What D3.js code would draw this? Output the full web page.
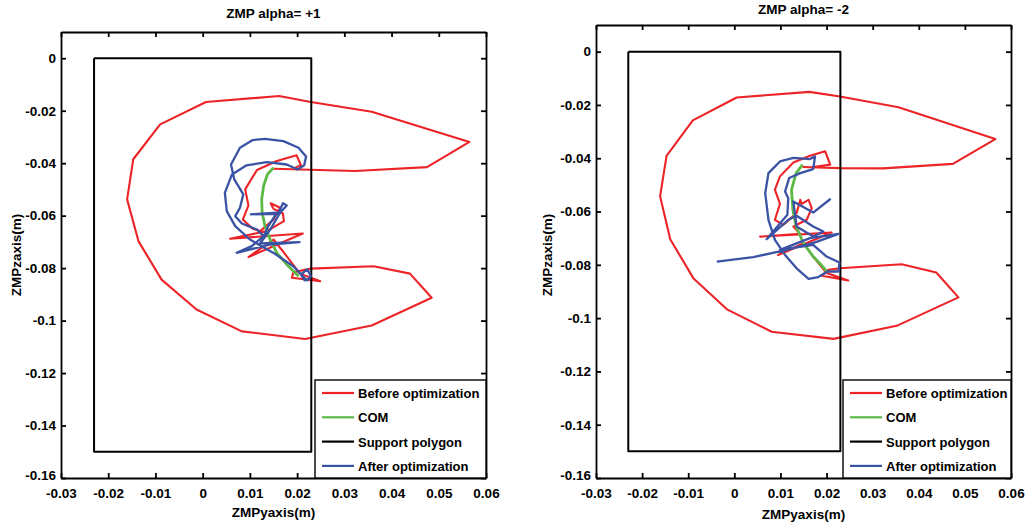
<!DOCTYPE html>
<html>
<head>
<meta charset="utf-8">
<script src="https://cdn.jsdelivr.net/npm/d3@7"></script>
<style>
body { margin: 0; background: #fff; }
svg text { font-family: "Liberation Sans", Arial, sans-serif; font-weight: bold; fill: #000; }
</style>
</head>
<body>
<div id="chart"></div>
<script>
// axis ticks
var xTicks = [-0.03, -0.02, -0.01, 0, 0.01, 0.02, 0.03, 0.04, 0.05, 0.06];
var yTicks = [0, -0.02, -0.04, -0.06, -0.08, -0.1, -0.12, -0.14, -0.16];
var legendNames = ["Before optimization", "COM", "Support polygon", "After optimization"];
var titles = ["ZMP alpha= +1", "ZMP alpha= -2"];

// support polygon (y, z)
var polyY = [-0.023, 0.023, 0.023, -0.023, -0.023];
var polyZ = [0, 0, -0.15, -0.15, 0];

// alpha = +1
var before1 = [[0.0150,-0.0421],[0.0323,-0.0430],[0.0475,-0.0415],[0.0565,-0.0319],[0.0358,-0.0204],[0.0229,-0.0167],
  [0.0162,-0.0144],[0.0007,-0.0167],[-0.0090,-0.0252],[-0.0147,-0.0385],[-0.0160,-0.0538],[-0.0136,-0.0697],
  [-0.0087,-0.0844],[-0.0013,-0.0958],[0.0083,-0.1041],[0.0217,-0.1070],[0.0358,-0.1019],[0.0485,-0.0913],
  [0.0439,-0.0821],[0.0362,-0.0793],[0.0229,-0.0802],[0.0192,-0.0816],[0.0189,-0.0837],[0.0249,-0.0850],
  [0.0206,-0.0821],[0.0175,-0.0748],[0.0150,-0.0691],[0.0097,-0.0758],[0.0212,-0.0668],[0.0058,-0.0688],
  [0.0136,-0.0659],[0.0172,-0.0621],[0.0170,-0.0592],[0.0150,-0.0574],[0.0144,-0.0553],[0.0164,-0.0570],
  [0.0150,-0.0615],[0.0122,-0.0659],[0.0106,-0.0650],[0.0085,-0.0615],[0.0097,-0.0561],[0.0090,-0.0500],
  [0.0115,-0.0426],[0.0157,-0.0392],[0.0199,-0.0370],[0.0208,-0.0408],[0.0196,-0.0417]];
var com1 = [[0.0150,-0.0417],[0.0137,-0.0443],[0.0129,-0.0487],[0.0125,-0.0538],[0.0126,-0.0589],[0.0132,-0.0640],
  [0.0143,-0.0691],[0.0157,-0.0742],[0.0178,-0.0786],[0.0203,-0.0831]];
var after1 = [[0.0217,-0.0850],[0.0208,-0.0824],[0.0222,-0.0805],[0.0229,-0.0831],[0.0221,-0.0847],[0.0192,-0.0793],
  [0.0150,-0.0742],[0.0100,-0.0691],[0.0069,-0.0640],[0.0051,-0.0583],[0.0047,-0.0513],[0.0062,-0.0443],
  [0.0093,-0.0408],[0.0136,-0.0396],[0.0178,-0.0405],[0.0201,-0.0424],[0.0215,-0.0408],[0.0219,-0.0375],
  [0.0203,-0.0341],[0.0171,-0.0316],[0.0132,-0.0307],[0.0106,-0.0312],[0.0079,-0.0341],[0.0060,-0.0405],
  [0.0067,-0.0462],[0.0086,-0.0519],[0.0079,-0.0570],[0.0069,-0.0602],[0.0083,-0.0630],[0.0115,-0.0653],
  [0.0129,-0.0678],[0.0104,-0.0716],[0.0072,-0.0742],[0.0143,-0.0710],[0.0205,-0.0701],[0.0122,-0.0706],
  [0.0139,-0.0640],[0.0157,-0.0589],[0.0102,-0.0595],[0.0160,-0.0593],[0.0170,-0.0553],[0.0178,-0.0561],
  [0.0164,-0.0589],[0.0143,-0.0653],[0.0120,-0.0710]];

// alpha = -2
var before2 = [[0.0148,-0.0433],[0.0229,-0.0437],[0.0323,-0.0438],[0.0474,-0.0421],[0.0566,-0.0328],[0.0356,-0.0209],
  [0.0229,-0.0168],[0.0163,-0.0151],[0.0005,-0.0172],[-0.0090,-0.0258],[-0.0147,-0.0391],[-0.0161,-0.0543],
  [-0.0139,-0.0704],[-0.0089,-0.0850],[-0.0016,-0.0967],[0.0081,-0.1051],[0.0215,-0.1078],[0.0352,-0.1029],
  [0.0486,-0.0922],[0.0438,-0.0829],[0.0363,-0.0798],[0.0229,-0.0813],[0.0204,-0.0819],[0.0190,-0.0841],
  [0.0247,-0.0859],[0.0200,-0.0831],[0.0171,-0.0769],[0.0150,-0.0719],[0.0095,-0.0763],[0.0211,-0.0679],
  [0.0056,-0.0694],[0.0143,-0.0684],[0.0128,-0.0656],[0.0157,-0.0631],[0.0168,-0.0587],[0.0161,-0.0556],
  [0.0146,-0.0571],[0.0143,-0.0556],[0.0135,-0.0606],[0.0106,-0.0650],[0.0088,-0.0631],[0.0099,-0.0571],
  [0.0088,-0.0518],[0.0099,-0.0468],[0.0128,-0.0416],[0.0164,-0.0391],[0.0197,-0.0374],[0.0208,-0.0424],
  [0.0171,-0.0433]];
var com2 = [[0.0148,-0.0424],[0.0134,-0.0456],[0.0124,-0.0518],[0.0127,-0.0594],[0.0134,-0.0656],[0.0150,-0.0719],
  [0.0171,-0.0769],[0.0192,-0.0807],[0.0202,-0.0829]];
var after2 = [[-0.0038,-0.0788],[0.0041,-0.0771],[0.0114,-0.0744],[0.0175,-0.0716],[0.0226,-0.0684],[0.0164,-0.0700],
  [0.0099,-0.0744],[0.0171,-0.0725],[0.0200,-0.0769],[0.0228,-0.0791],[0.0226,-0.0825],[0.0202,-0.0825],
  [0.0182,-0.0846],[0.0161,-0.0853],[0.0135,-0.0813],[0.0110,-0.0763],[0.0088,-0.0706],[0.0074,-0.0631],
  [0.0067,-0.0531],[0.0074,-0.0456],[0.0099,-0.0412],[0.0128,-0.0399],[0.0164,-0.0403],[0.0175,-0.0393],
  [0.0171,-0.0441],[0.0143,-0.0456],[0.0119,-0.0474],[0.0110,-0.0525],[0.0117,-0.0550],[0.0115,-0.0612],
  [0.0070,-0.0704],[0.0117,-0.0631],[0.0135,-0.0616],[0.0171,-0.0656],[0.0193,-0.0675],[0.0171,-0.0694],
  [0.0135,-0.0656],[0.0128,-0.0562],[0.0171,-0.0604],[0.0209,-0.0552]];

var colors = ["#ec2327", "#5cb946", "#000000", "#3a53a4"];

var svg = d3.select("#chart").append("svg")
    .attr("width", 1028)
    .attr("height", 531);

function fmt(d) {
    return d === 0 ? "0" : String(+d.toFixed(2));
}

function drawPanel(p) {
    var x = d3.scaleLinear().domain([-0.03, 0.06]).range([p.x0, p.x1]);
    var y = d3.scaleLinear().domain([-0.16, 0.01]).range([p.y1, p.y0]);
    var g = svg.append("g");

    // 軸 (MATLAB風の内向き目盛り)
    var axB = g.append("g").attr("transform", "translate(0," + p.y1 + ")")
        .call(d3.axisBottom(x).tickValues(xTicks).tickSize(-5).tickSizeOuter(0).tickPadding(10).tickFormat(fmt));
    var axT = g.append("g").attr("transform", "translate(0," + p.y0 + ")")
        .call(d3.axisTop(x).tickValues(xTicks).tickSize(-5).tickSizeOuter(0).tickFormat(""));
    var axL = g.append("g").attr("transform", "translate(" + p.x0 + ",0)")
        .call(d3.axisLeft(y).tickValues(yTicks).tickSize(-5).tickSizeOuter(0).tickPadding(5).tickFormat(fmt));
    var axR = g.append("g").attr("transform", "translate(" + p.x1 + ",0)")
        .call(d3.axisRight(y).tickValues(yTicks).tickSize(-5).tickSizeOuter(0).tickFormat(""));
    [axB, axT, axL, axR].forEach(function(a) {
        a.selectAll("path, line").attr("stroke", "#000").attr("stroke-width", 1.8);
        a.selectAll("text").style("font-size", "13.5px").style("font-family", "'Liberation Sans', Arial, sans-serif").style("font-weight", "bold");
    });
    axL.selectAll("text").filter(function(d) { return d === -0.16; }).attr("dy", "0.1em");

    var line = d3.line()
        .x(function(d) { return x(d[0]); })
        .y(function(d) { return y(d[1]); });

    var polygon = polyY.map(function(v, i) { return [v, polyZ[i]]; });
    var series = [p.before, p.com, polygon, p.after];
    var widths = [2.1, 2.8, 2, 2.3];

    series.forEach(function(s, i) {
        g.append("path")
            .attr("d", line(s))
            .attr("fill", "none")
            .attr("stroke", colors[i])
            .attr("stroke-width", widths[i])
            .attr("stroke-linejoin", "round");
    });

    // タイトル・軸ラベル
    g.append("text")
        .attr("x", (p.x0 + p.x1) / 2).attr("y", p.titleY)
        .attr("text-anchor", "middle").style("font-size", "13.5px")
        .text(p.title);
    g.append("text")
        .attr("x", (p.x0 + p.x1) / 2).attr("y", p.xLabelY)
        .attr("text-anchor", "middle").style("font-size", "13.5px")
        .text("ZMPyaxis(m)");
    g.append("text")
        .attr("transform", "translate(" + p.yLabelX + "," + 255 + ") rotate(-90)")
        .attr("text-anchor", "middle").style("font-size", "13.5px")
        .text("ZMPzaxis(m)");

    // 凡例
    var lg = g.append("g").attr("transform", "translate(" + p.legX + "," + 380 + ")");
    lg.append("rect")
        .attr("width", p.x1 - p.legX).attr("height", p.y1 - 380)
        .attr("fill", "#fff").attr("stroke", "#000").attr("stroke-width", 1.4);
    legendNames.forEach(function(name, i) {
        var ly = 13 + i * 24.3;
        lg.append("line")
            .attr("x1", 7).attr("x2", 39).attr("y1", ly).attr("y2", ly)
            .attr("stroke", colors[i]).attr("stroke-width", 2.2);
        lg.append("text")
            .attr("x", 43).attr("y", ly + 5)
            .style("font-size", "13px")
            .text(name);
    });
}

drawPanel({ x0: 61, x1: 486, y0: 32, y1: 478, title: titles[0], titleY: 18, xLabelY: 517, yLabelX: 21, legX: 315,
    before: before1, com: com1, after: after1 });
drawPanel({ x0: 596, x1: 1011, y0: 25, y1: 478, title: titles[1], titleY: 14, xLabelY: 519, yLabelX: 552, legX: 843,
    before: before2, com: com2, after: after2 });
</script>
</body>
</html>
